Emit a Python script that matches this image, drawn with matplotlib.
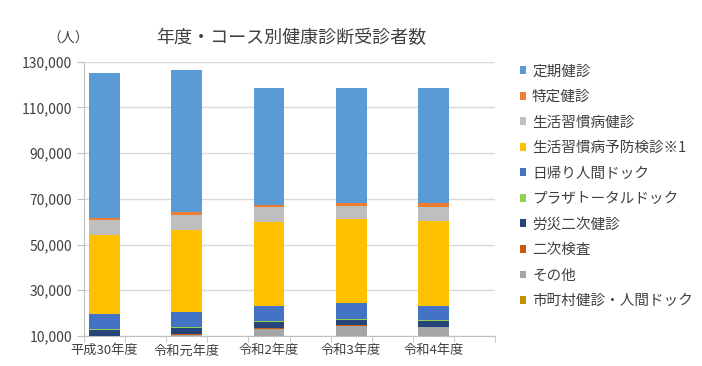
import matplotlib
matplotlib.use('Agg')
import matplotlib.pyplot as plt
import numpy as np
from matplotlib.patches import Patch
from matplotlib.ticker import FuncFormatter

plt.rcParams['font.family'] = ['Noto Sans CJK JP', 'DejaVu Sans']

years = ['平成30年度', '令和元年度', '令和2年度', '令和3年度', '令和4年度']

# stacked from bottom to top
shichoson = [9600, 9400, 8700, 8500, 8800]      # 市町村健診・人間ドック
sonota = [300, 1050, 4500, 5900, 5100]          # その他
niji_kensa = [300, 350, 300, 300, 200]          # 二次検査
rousai = [2500, 2660, 2720, 2260, 2300]         # 労災二次健診
plaza = [460, 440, 440, 440, 420]               # プラザトータルドック
higaeri = [6340, 6440, 6440, 7140, 6410]        # 日帰り人間ドック
yobou = [34800, 35880, 36890, 36490, 37060]     # 生活習慣病予防検診※1
seikatsu = [6300, 6830, 6560, 5960, 6260]       # 生活習慣病健診
tokutei = [1140, 1310, 880, 1310, 1750]         # 特定健診
teiki = [63160, 61880, 50930, 50060, 50320]     # 定期健診

series = [
    ('市町村健診・人間ドック', shichoson, '#BF9000'),
    ('その他', sonota, '#A5A5A5'),
    ('二次検査', niji_kensa, '#C55A11'),
    ('労災二次健診', rousai, '#264478'),
    ('プラザトータルドック', plaza, '#92D050'),
    ('日帰り人間ドック', higaeri, '#4472C4'),
    ('生活習慣病予防検診※1', yobou, '#FFC000'),
    ('生活習慣病健診', seikatsu, '#BFBFBF'),
    ('特定健診', tokutei, '#ED7D31'),
    ('定期健診', teiki, '#5B9BD5'),
]

fig = plt.figure(figsize=(7.02, 3.66), dpi=100)
ax = fig.add_axes([0.1197, 0.082, 0.5855, 0.7494])

x = np.arange(len(years))
bottom = np.zeros(len(years))
for name, vals, col in series:
    ax.bar(x, vals, 0.375, bottom=bottom, color=col, edgecolor='none', zorder=3)
    bottom += np.array(vals)

ax.set_ylim(10000, 130000)
ax.set_xlim(-0.25, 4.75)
ax.set_yticks(np.arange(10000, 130001, 20000))
ax.yaxis.set_major_formatter(FuncFormatter(lambda v, p: f'{int(v):,}'))
ax.grid(axis='y', color='#D9D9D9', lw=1, zorder=0)

ax.set_xticks(x)
ax.set_xticklabels(years)
ax.set_xticks(np.arange(-0.25, 4.8, 0.5), minor=True)
ax.tick_params(axis='x', which='major', length=0, pad=6, labelsize=9.5, colors='#404040')
ax.tick_params(axis='x', which='minor', length=4, color='#BFBFBF')
ax.tick_params(axis='y', length=5, labelsize=10, colors='#404040')
ax.tick_params(axis='y', color='#BFBFBF')

for s in ['top', 'right']:
    ax.spines[s].set_visible(False)
ax.spines['left'].set_color('#BFBFBF')
ax.spines['bottom'].set_color('#BFBFBF')

fig.text(0.097, 0.895, '（人）', ha='center', va='center', fontsize=10, color='#404040')
fig.text(0.415, 0.895, '年度・コース別健康診断受診者数', ha='center', va='center',
         fontsize=13, color='#404040')

handles = [Patch(facecolor=col, label=name) for name, vals, col in series[::-1]]
fig.legend(handles=handles, loc='upper left', bbox_to_anchor=(0.722, 0.86),
           frameon=False, fontsize=10.5, handlelength=0.43, handleheight=0.43,
           handletextpad=0.4, labelspacing=0.79, labelcolor='#404040')

fig.savefig('out.png', dpi=100)
